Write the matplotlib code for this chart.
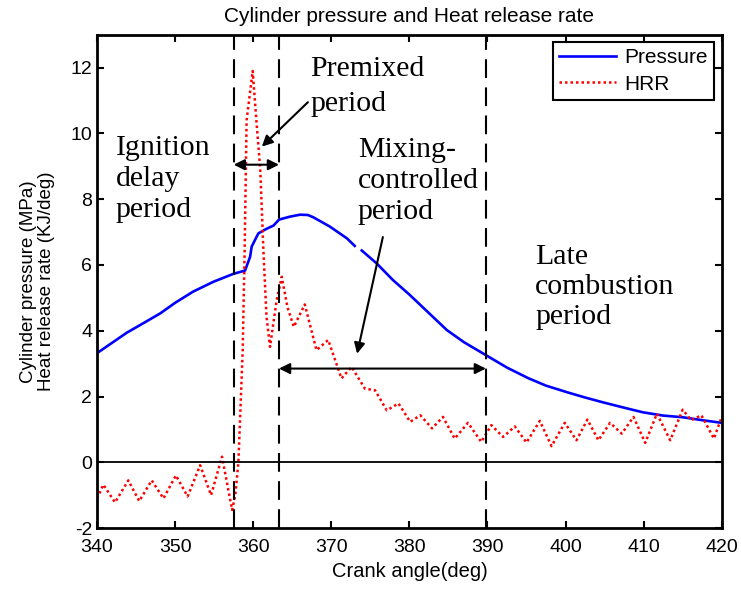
import numpy as np
import matplotlib
matplotlib.use("Agg")
import matplotlib.pyplot as plt

plt.rcParams['font.family'] = ['Liberation Sans', 'DejaVu Sans']
plt.rcParams['axes.unicode_minus'] = False

# crank angle (deg) / cylinder pressure (MPa)
p_angle = [340, 341.9, 343.8, 346, 348.1, 350, 352.3, 354.9, 357.45, 358.95,
           359.6, 359.8, 360.65, 361.7, 362.6, 363.3, 364.7, 366.0, 367.0, 367.7,
           369.8, 372.0, 373.0, 373.4, 373.9, 375.8, 377.9, 380, 382, 384.8,
           387, 390, 392.5, 395.2, 397.5, 400.2, 402.5, 405, 407.5, 409.9,
           412.5, 415, 417.5, 420]
pressure = [3.32, 3.63, 3.94, 4.24, 4.53, 4.85, 5.19, 5.49, 5.73, 5.83,
            6.25, 6.56, 6.96, 7.1, 7.2, 7.38, 7.47, 7.53, 7.52, 7.45,
            7.17, 6.81, 6.58, np.nan, 6.44, 6.05, 5.54, 5.1, 4.65, 4.02,
            3.65, 3.23, 2.88, 2.56, 2.33, 2.13, 1.97, 1.81, 1.66, 1.52,
            1.42, 1.37, 1.28, 1.2]

# crank angle (deg) / heat release rate (KJ/deg)
h_angle = [340.0, 340.8, 342.3, 344.0, 345.4, 347.0, 348.5, 350.1, 351.6, 353.2,
           354.6, 356.0, 357.3, 357.7, 358.1, 358.65, 358.9, 359.15, 359.93, 360.4,
           360.9, 361.3, 361.7, 362.15, 363.0, 363.65, 364.4, 365.2, 366.6, 368.1,
           369.6, 371.3, 372.6, 374.3, 375.6, 377.1, 378.6, 380.1, 381.4, 382.9,
           384.3, 385.8, 387.5, 389.2, 390.5, 392.0, 393.5, 395.0, 396.7, 398.2,
           399.9, 401.4, 402.8, 404.2, 405.7, 407.2, 408.7, 410.2, 411.7, 413.4,
           415.0, 416.1, 417.4, 419.0, 420.0]
hrr = [-1.1, -0.68, -1.22, -0.55, -1.18, -0.55, -1.1, -0.4, -1.04, -0.09,
       -1.0, 0.17, -1.45, -1.0, 0.0, 3.4, 6.45, 10.4, 11.9, 10.4,
       8.9, 6.45, 4.43, 3.51, 4.93, 5.64, 4.7, 4.12, 4.8, 3.41,
       3.72, 2.55, 2.9, 2.24, 2.19, 1.58, 1.79, 1.23, 1.43, 1.03,
       1.38, 0.72, 1.2, 0.62, 1.13, 0.77, 1.09, 0.6, 1.26, 0.49,
       1.2, 0.67, 1.3, 0.67, 1.2, 0.87, 1.38, 0.59, 1.48, 0.67,
       1.6, 1.28, 1.43, 0.72, 1.38]

# phase boundaries (deg)
boundaries = [357.5, 363.3, 389.8]

fig = plt.figure(figsize=(7.41, 5.90), dpi=100)
ax = fig.add_axes([0.131, 0.105, 0.843, 0.836])

ax.plot(p_angle, pressure, color='blue', lw=1.9, label='Pressure')
ax.plot(h_angle, hrr, color='red', lw=1.8, ls=(0, (1, 1.2)), label='HRR')

ax.axhline(0, color='black', lw=1.3)
for b in boundaries:
    ax.axvline(b, color='black', lw=1.5, dashes=(9, 4.5))

ax.set_xlim(340, 420)
ax.set_ylim(-2, 13)
ax.set_xticks(range(340, 421, 10))
ax.set_yticks(range(-2, 13, 2))
ax.tick_params(direction='in', top=True, right=True, labelsize=14, length=5, width=1.5)
ax.tick_params(axis='x', pad=8)
for s in ax.spines.values():
    s.set_linewidth(2)

ax.set_title('Cylinder pressure and Heat release rate', fontsize=15, pad=9)
ax.set_xlabel('Crank angle(deg)', fontsize=14.5, labelpad=4)
ax.set_ylabel('Cylinder pressure (MPa)\nHeat release rate (KJ/deg)', fontsize=13.5,
              labelpad=11, linespacing=1.1)

leg = ax.legend(loc='upper right', fontsize=15, handlelength=2.75, fancybox=False,
                edgecolor='black', framealpha=1, borderaxespad=0.35,
                borderpad=0.3, labelspacing=0.35, handletextpad=0.4)
leg.get_frame().set_linewidth(1.5)

# period annotations
serif = dict(family=['Liberation Serif', 'DejaVu Serif'], fontsize=21.5, va='top')
ax.text(342.4, 9.95, 'Ignition\ndelay\nperiod', linespacing=1.25, **serif)
ax.text(367.3, 12.35, 'Premixed\nperiod', linespacing=1.45, **serif)
ax.text(373.4, 9.9, 'Mixing-\ncontrolled\nperiod', linespacing=1.25, **serif)
ax.text(396.1, 6.65, 'Late\ncombustion\nperiod', linespacing=1.2, **serif)

two_way = dict(arrowstyle='<|-|>', color='black', lw=1.5, mutation_scale=16,
               shrinkA=0, shrinkB=0)
one_way = dict(arrowstyle='-|>', color='black', lw=1.5, mutation_scale=16,
               shrinkA=0, shrinkB=0)
ax.annotate('', xy=(boundaries[0], 9.05), xytext=(boundaries[1], 9.05), arrowprops=two_way)
ax.annotate('', xy=(boundaries[1], 2.85), xytext=(boundaries[2], 2.85), arrowprops=two_way)
ax.annotate('', xy=(361.1, 9.6), xytext=(367.0, 10.95), arrowprops=one_way)
ax.annotate('', xy=(373.3, 3.3), xytext=(376.6, 6.85), arrowprops=one_way)

fig.savefig('out.png', dpi=100)
